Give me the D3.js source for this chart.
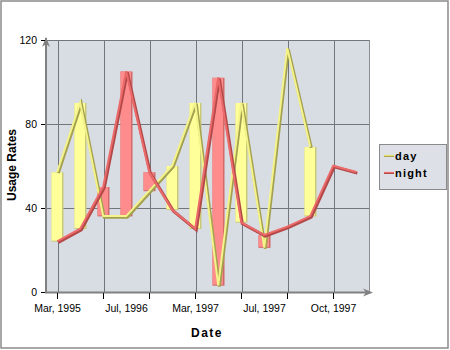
<!DOCTYPE html>
<html><head><meta charset="utf-8">
<script src="https://cdn.jsdelivr.net/npm/d3@7"></script>
<style>body{margin:0;background:#fff;}svg{display:block;font-family:Arial,"Liberation Sans",sans-serif;}</style>
</head><body><svg id="c" width="450" height="350"></svg>
<script>
const categories = ["Mar, 1995","Sep, 1995","Feb, 1996","Jul, 1996","Sep, 1996","Dec, 1996","Mar, 1997","May, 1997","Jun, 1997","Jul, 1997","Aug, 1997","Sep, 1997","Oct, 1997","Nov, 1997"];
const labelCategories = ["Mar, 1995","Jul, 1996","Mar, 1997","Jul, 1997","Oct, 1997"];
const dayValues = [57,90,36,36,48,60,90,3,90,21,116,69];
const nightValues = [24,30,50,105,57,39,30,102,33,27,31,36,60,57];
const barCategories = ["Mar, 1995","Sep, 1995","Feb, 1996","Jul, 1996","Sep, 1996","Dec, 1996","Mar, 1997","May, 1997","Jun, 1997","Jul, 1997","Sep, 1997"];
const yTicks = [0,40,80,120];

const svg = d3.select("#c");
const L=46, R=368, T=40, B=292;
svg.append("rect").attr("x",1).attr("y",1).attr("width",447).attr("height",347).attr("fill","#fff").attr("stroke","#8a8a8a").attr("stroke-width",1.5);

const x = d3.scaleBand().domain(categories).range([L,R]);
const y = d3.scaleLinear().domain([0,120]).range([B,T]);
const cx = c => x(c) + x.bandwidth()/2;

svg.append("rect").attr("x",L).attr("y",T).attr("width",R-L+1).attr("height",B-T).attr("fill","#d8dce3");
// grid
const gridCats = categories.filter((c,i)=>i%2===0);
svg.append("g").selectAll("line").data(gridCats).join("line")
  .attr("x1",c=>Math.round(cx(c))+0.5).attr("x2",c=>Math.round(cx(c))+0.5)
  .attr("y1",T).attr("y2",B).attr("stroke","#72757a").attr("stroke-width",1);
svg.append("g").selectAll("line").data(yTicks.filter(v=>v>0)).join("line")
  .attr("x1",L).attr("x2",R+1).attr("y1",v=>Math.round(y(v))+0.5).attr("y2",v=>Math.round(y(v))+0.5)
  .attr("stroke","#72757a").attr("stroke-width",1);
svg.append("line").attr("x1",R+1.5).attr("x2",R+1.5).attr("y1",T).attr("y2",B).attr("stroke","#8a8d92");

// bars
const bw = 12;
const bars = svg.append("g");
barCategories.forEach(c=>{
  const i = categories.indexOf(c);
  const d = dayValues[i], n = nightValues[i];
  const top = Math.max(d,n), bot = Math.min(d,n);
  const yellow = d >= n;
  const fill = yellow ? "#ffff99" : "#ff8c8c";
  const edge = yellow ? "#c9c97a" : "#d06a6a";
  const x0 = cx(c) - bw/2;
  bars.append("rect").attr("x",x0).attr("y",y(top)).attr("width",bw).attr("height",y(bot)-y(top)).attr("fill",edge);
  bars.append("rect").attr("x",x0).attr("y",y(top)).attr("width",bw-1.5).attr("height",y(bot)-y(top)-1).attr("fill",fill);
});

// lines
function drawLine(vals, shadow, main){
  const line = d3.line().x((d,i)=>cx(categories[i])).y(d=>y(d));
  svg.append("path").attr("d",line(vals)).attr("fill","none").attr("stroke",shadow).attr("stroke-width",3).attr("transform","translate(0.8,0.8)");
  svg.append("path").attr("d",line(vals)).attr("fill","none").attr("stroke",main).attr("stroke-width",2).attr("transform","translate(-0.3,-0.3)");
}
drawLine(dayValues, "#a3a050", "#f4f38a");
drawLine(nightValues, "#b24848", "#ec6a6a");

// axes
const axColor="#808080";
svg.append("line").attr("x1",L).attr("x2",L).attr("y1",B+1).attr("y2",T-2).attr("stroke",axColor).attr("stroke-width",2);
svg.append("line").attr("x1",L-1).attr("x2",R+2).attr("y1",B+0.5).attr("y2",B+0.5).attr("stroke",axColor).attr("stroke-width",2);
svg.append("path").attr("d",`M${L},${T-3} L${L-4},${T+7} L${L},${T+4} L${L+4},${T+7} Z`).attr("fill",axColor);
svg.append("path").attr("d",`M${R+5},${B+0.5} L${R-5},${B-3.5} L${R-2},${B+0.5} L${R-5},${B+4.5} Z`).attr("fill",axColor);

const font = "Arial,'Liberation Sans',sans-serif";
const yAxis = d3.axisLeft(y).tickValues(yTicks).tickSize(4).tickPadding(4);
const gy = svg.append("g").attr("transform",`translate(${L-1},0)`).call(yAxis);
gy.select(".domain").remove();
gy.selectAll("line").attr("stroke","#000");
gy.selectAll("text").attr("font-size",10.5).attr("fill","#000").attr("font-family",font);

// tick marks (every other category)
const gxt = svg.append("g").attr("transform",`translate(0,${B+1})`)
  .call(d3.axisBottom(x).tickValues(gridCats).tickSize(6).tickFormat(""));
gxt.select(".domain").remove();
gxt.selectAll("line").attr("stroke","#000");
// labels (every third category)
const gxl = svg.append("g").attr("transform",`translate(0,${B+1})`)
  .call(d3.axisBottom(x).tickValues(labelCategories).tickSize(0).tickPadding(12));
gxl.select(".domain").remove();
gxl.selectAll("line").remove();
gxl.selectAll("text").attr("font-size",10.5).attr("fill","#000").attr("font-family",font);

svg.append("text").attr("x",207).attr("y",337).attr("text-anchor","middle").attr("font-size",12).attr("font-weight","bold").attr("letter-spacing",1.5).text("Date");
svg.append("text").attr("transform","translate(16,165) rotate(-90)").attr("text-anchor","middle").attr("font-size",12).attr("font-weight","bold").text("Usage Rates");

// legend
const lg = svg.append("g");
lg.append("rect").attr("x",379.5).attr("y",144.5).attr("width",67).attr("height",45).attr("fill","#dde0e6").attr("stroke","#8a8a8a");
const legendItems=[{name:"day",color:"#e6e070",dark:"#a3a050"},{name:"night",color:"#ec6a6a",dark:"#b24848"}];
legendItems.forEach((d,i)=>{
  const yy = 156 + i*17;
  lg.append("line").attr("x1",384).attr("x2",394).attr("y1",yy+0.5).attr("y2",yy+0.5).attr("stroke",d.dark).attr("stroke-width",1);
  lg.append("line").attr("x1",384).attr("x2",394).attr("y1",yy-0.5).attr("y2",yy-0.5).attr("stroke",d.color).attr("stroke-width",1.2);
  lg.append("text").attr("x",395).attr("y",yy+4).attr("font-size",11).attr("font-weight","bold").attr("letter-spacing",1.2).text(d.name);
});
</script></body></html>
